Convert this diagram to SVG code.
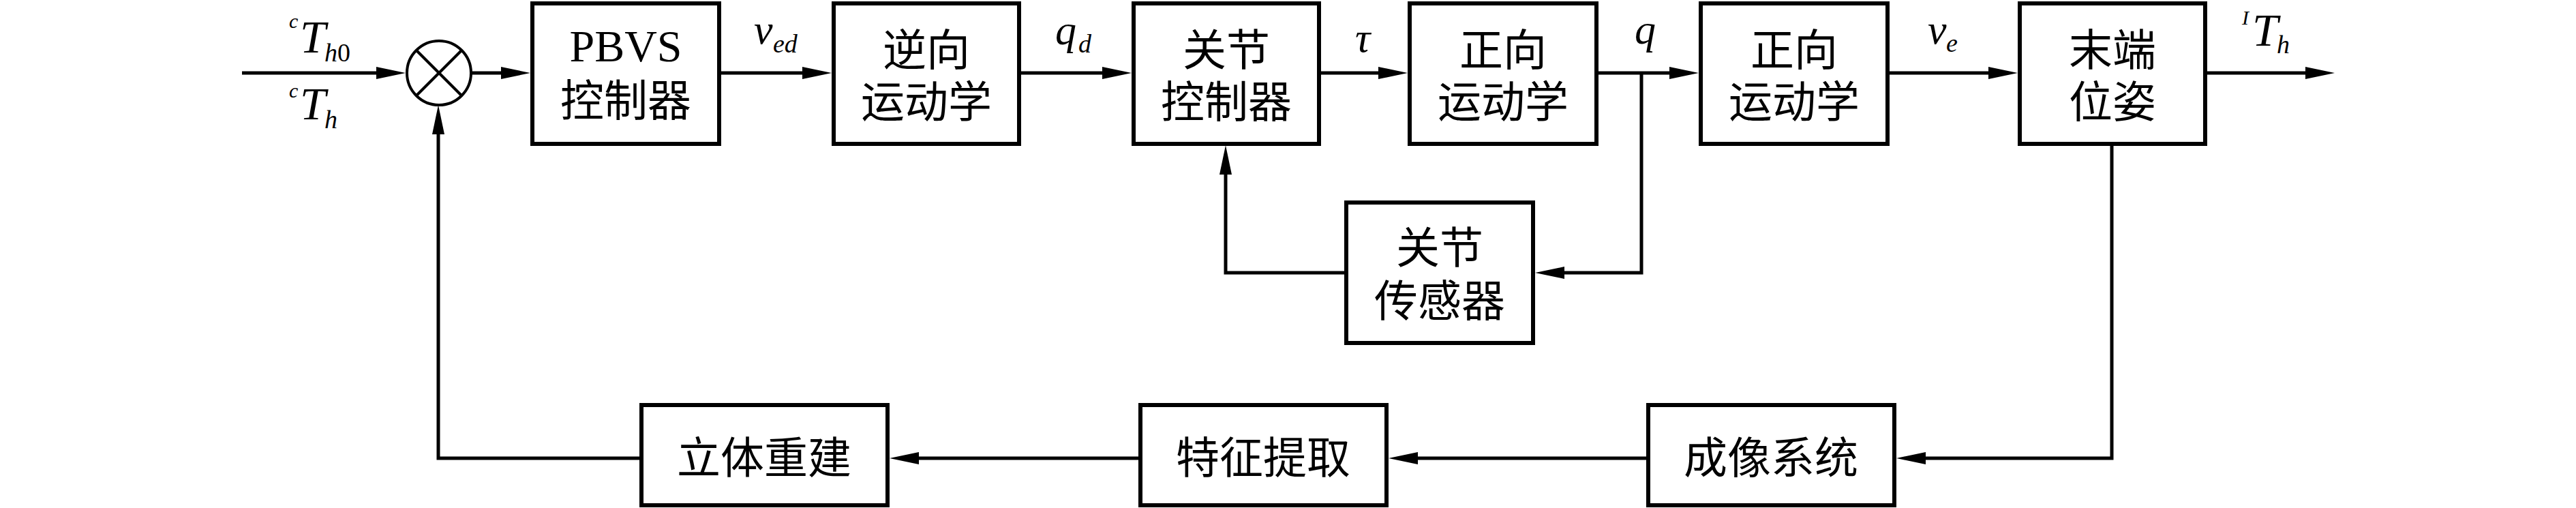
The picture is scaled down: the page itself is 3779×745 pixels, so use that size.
<svg xmlns="http://www.w3.org/2000/svg" width="3779" height="745" viewBox="0 0 3779 745">
<style>
.box{fill:#fff;stroke:#000;stroke-width:6}
.ln{fill:none;stroke:#000;stroke-width:5}
.cn{font-family:"Noto Sans CJK SC","Noto Sans CJK JP",sans-serif;font-size:64px;text-anchor:middle;fill:#000}
.lat{font-family:"Liberation Serif","Times New Roman",serif;font-size:66px}
.it{font-family:"Liberation Serif","Times New Roman",serif;font-style:italic;fill:#000}
.sup{font-size:30px}
.big{font-size:68px}
.mid{font-size:62px}
.sub{font-size:38px}
</style>
<defs>
<marker id="ah" markerUnits="userSpaceOnUse" markerWidth="44" markerHeight="20" viewBox="0 0 44 20" refX="14" refY="10" orient="auto">
<path d="M0,1 L43,10 L0,19 z" fill="#000"/>
</marker>
</defs>
<rect width="3779" height="745" fill="#fff"/>
<g id="connectors">
<line class="ln" x1="355" y1="107" x2="566" y2="107" marker-end="url(#ah)"/>
<line class="ln" x1="692" y1="107" x2="749" y2="107" marker-end="url(#ah)"/>
<line class="ln" x1="1058" y1="107" x2="1191" y2="107" marker-end="url(#ah)"/>
<line class="ln" x1="1498" y1="107" x2="1631" y2="107" marker-end="url(#ah)"/>
<line class="ln" x1="1938" y1="107" x2="2036" y2="107" marker-end="url(#ah)"/>
<line class="ln" x1="2345" y1="107" x2="2463" y2="107" marker-end="url(#ah)"/>
<line class="ln" x1="2772" y1="107" x2="2931" y2="107" marker-end="url(#ah)"/>
<line class="ln" x1="3238" y1="107" x2="3396" y2="107" marker-end="url(#ah)"/>
<polyline class="ln" points="2408,107 2408,400 2281,400" marker-end="url(#ah)"/>
<polyline class="ln" points="1972,400 1798,400 1798,242" marker-end="url(#ah)"/>
<polyline class="ln" points="3098,213 3098,672 2811,672" marker-end="url(#ah)"/>
<line class="ln" x1="2415" y1="672" x2="2066" y2="672" marker-end="url(#ah)"/>
<line class="ln" x1="1670" y1="672" x2="1334" y2="672" marker-end="url(#ah)"/>
<polyline class="ln" points="938,672 643,672 643,183" marker-end="url(#ah)"/>
</g>
<g id="sum">
<circle cx="644" cy="107" r="47" fill="#fff" stroke="#000" stroke-width="4"/>
<line x1="611" y1="74" x2="677" y2="140" stroke="#000" stroke-width="4"/>
<line x1="677" y1="74" x2="611" y2="140" stroke="#000" stroke-width="4"/>
</g>
<g id="pbvs">
<rect class="box" x="781" y="5" width="274" height="206"/>
<text class="cn"><tspan class="lat" x="918" y="90">PBVS</tspan><tspan x="918" y="170">控制器</tspan></text>
</g>
<g id="ik">
<rect class="box" x="1223" y="5" width="272" height="206"/>
<text class="cn"><tspan x="1359" y="96">逆向</tspan><tspan x="1359" y="172">运动学</tspan></text>
</g>
<g id="jc">
<rect class="box" x="1663" y="5" width="272" height="206"/>
<text class="cn"><tspan x="1799" y="96">关节</tspan><tspan x="1799" y="172">控制器</tspan></text>
</g>
<g id="fk1">
<rect class="box" x="2068" y="5" width="274" height="206"/>
<text class="cn"><tspan x="2205" y="96">正向</tspan><tspan x="2205" y="172">运动学</tspan></text>
</g>
<g id="fk2">
<rect class="box" x="2495" y="5" width="274" height="206"/>
<text class="cn"><tspan x="2632" y="96">正向</tspan><tspan x="2632" y="172">运动学</tspan></text>
</g>
<g id="pose">
<rect class="box" x="2963" y="5" width="272" height="206"/>
<text class="cn"><tspan x="3099" y="96">末端</tspan><tspan x="3099" y="172">位姿</tspan></text>
</g>
<g id="sensor">
<rect class="box" x="1975" y="297" width="274" height="206"/>
<text class="cn"><tspan x="2112" y="386">关节</tspan><tspan x="2112" y="464">传感器</tspan></text>
</g>
<g id="recon">
<rect class="box" x="941" y="594" width="361" height="147"/>
<text class="cn" x="1121" y="694">立体重建</text>
</g>
<g id="feat">
<rect class="box" x="1673" y="594" width="361" height="147"/>
<text class="cn" x="1853" y="694">特征提取</text>
</g>
<g id="imaging">
<rect class="box" x="2418" y="594" width="361" height="147"/>
<text class="cn" x="2598" y="694">成像系统</text>
</g>
<g id="labels">
<text class="it"><tspan class="sup" x="424" y="41">c</tspan><tspan class="big" x="440" y="77">T</tspan><tspan class="sub" x="476" y="90">h</tspan><tspan class="sub" font-style="normal">0</tspan></text>
<text class="it"><tspan class="sup" x="424" y="143">c</tspan><tspan class="big" x="440" y="175">T</tspan><tspan class="sub" x="476" y="188">h</tspan></text>
<text class="it"><tspan class="mid" x="1106" y="64">v</tspan><tspan class="sub" x="1134" y="77">ed</tspan></text>
<text class="it"><tspan class="mid" x="1548" y="65">q</tspan><tspan class="sub" x="1582" y="77">d</tspan></text>
<text class="it mid" x="1988" y="76">τ</text>
<text class="it mid" x="2398" y="64">q</text>
<text class="it"><tspan class="mid" x="2828" y="64">v</tspan><tspan class="sub" x="2855" y="76">e</tspan></text>
<text class="it"><tspan class="sup" x="3289" y="36">I</tspan><tspan class="big" x="3304" y="67">T</tspan><tspan class="sub" x="3340" y="78">h</tspan></text>
</g>
</svg>
